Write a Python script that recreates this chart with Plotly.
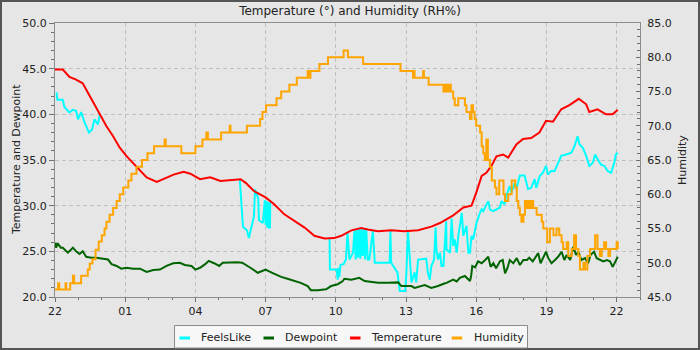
from datetime import datetime, timedelta
import plotly.graph_objects as go

# ---- readings (clock time "HH:MM", running from 22:00 one day to 22:00 the next) ----
temp_time = ["22:00", "22:20", "22:37", "22:54", "23:11", "23:20", "23:37", "23:54",
             "00:12", "00:29", "00:46", "01:04", "01:20", "01:38", "01:55", "02:21",
             "02:38", "03:04", "03:30", "03:47", "04:12", "04:38", "05:04", "05:30",
             "05:56", "06:09", "06:30", "07:00", "07:22", "07:48", "08:14", "08:40",
             "09:05", "09:31", "09:56", "10:14", "10:40", "11:05", "11:22", "11:48",
             "12:22", "12:56", "13:31", "14:05", "14:27", "15:00", "15:27", "15:48",
             "16:00", "16:14", "16:26", "16:39", "16:52", "17:09", "17:22", "17:43",
             "18:00", "18:21", "18:42", "18:59", "19:17", "19:38", "19:59", "20:23",
             "20:42", "20:50", "21:11", "21:33", "21:50", "22:03"]
temperature = [44.9, 44.9, 44.1, 43.8, 43.4, 42.7, 41.3, 40.1,
               38.7, 37.6, 36.35, 35.4, 34.7, 33.8, 33.1, 32.6,
               32.95, 33.4, 33.7, 33.5, 32.9, 33.1, 32.7, 32.8,
               32.9, 32.5, 31.6, 30.9, 30.15, 29.05, 28.3, 27.6,
               26.7, 26.4, 26.45, 26.7, 27.3, 27.55, 27.4, 27.2,
               27.3, 27.2, 27.3, 27.7, 28.1, 28.9, 29.8, 30.0,
               31.4, 33.25, 33.6, 34.35, 35.4, 35.6, 35.25, 36.7,
               37.3, 37.4, 38.0, 39.3, 39.2, 40.55, 41.0, 41.7,
               41.1, 40.25, 40.55, 40.0, 40.0, 40.5]

# FeelsLike is only listed where it differs from the temperature (None = same as temperature)
feels_time = ["22:04", "22:06", "22:20", "22:24", "22:37", "22:46", "22:54", "22:59",
              "23:07", "23:16", "23:27", "23:35", "23:41", "23:50", "23:55",
              "03:00",
              "05:54", "05:57", "06:02", "06:12", "06:17", "06:25", "06:30", "06:33",
              "06:41", "06:43", "06:53", "06:58", "07:00", "07:02", "07:04", "07:06",
              "07:08", "07:10", "07:11", "07:12",
              "08:30",
              "09:44", "09:45", "10:02", "10:05", "10:07", "10:09", "10:12", "10:20",
              "10:26", "10:30", "10:35", "10:44", "10:48", "10:51", "10:54", "10:57",
              "11:00", "11:03", "11:06", "11:09", "11:12", "11:15", "11:18", "11:22",
              "11:26", "11:35", "11:40", "12:18", "12:20", "12:22", "12:38", "12:44",
              "12:58", "13:01", "13:05", "13:10", "13:14", "13:22", "13:26", "13:31",
              "13:52", "13:56", "14:01", "14:05", "14:12", "14:16", "14:18", "14:22",
              "14:27", "14:31", "14:36", "14:43", "14:44", "14:53", "14:57", "15:01",
              "15:05", "15:10", "15:14", "15:23", "15:27", "15:35", "15:40", "15:44",
              "15:48", "15:52", "15:56", "16:01", "16:10", "16:14", "16:18", "16:26",
              "16:31", "16:35", "16:43", "16:52", "17:01", "17:05", "17:13", "17:17",
              "17:26", "17:30", "17:39", "17:43", "17:52", "18:04", "18:13", "18:21",
              "18:30", "18:34", "18:43", "18:51", "18:59", "19:04", "19:12", "19:21",
              "19:29", "19:38", "19:50", "20:04", "20:12", "20:20", "20:25", "20:33",
              "20:42", "20:50", "20:59", "21:05", "21:11", "21:20", "21:29", "21:37",
              "21:46", "21:50", "21:54", "21:58", "22:03"]
feels_like = [42.4, 41.6, 41.6, 40.8, 40.2, 40.5, 40.4, 39.45,
              40.25, 39.1, 38.0, 38.35, 39.45, 38.9, 40.0,
              None,
              32.8, 30.3, 27.7, 27.3, 26.45, 27.9, 28.8, 31.8,
              30.8, 28.4, 28.1, 30.6, 27.9, 30.5, 27.6, 30.4,
              27.5, 30.3, 27.5, 30.4,
              None,
              26.4, 23.0, 23.0, 21.9, 23.2, 22.2, 23.5, 23.6,
              24.1, 27.0, 24.1, 24.85, 27.3, 24.1, 27.4, 24.3,
              27.5, 24.2, 27.5, 24.5, 27.4, 24.1, 27.4, 24.1,
              24.1, 27.2, 23.75, 23.75, 27.3, 23.75, 22.7, 20.65,
              20.65, 22.7, 27.2, 24.1, 21.6, 22.7, 21.6, 24.1,
              24.2, 22.7, 21.9, 23.4, 24.1, 27.6, 25.2, 24.1,
              24.85, 23.4, 23.4, 28.3, 25.2, 24.85, 28.6, 25.6,
              26.3, 24.85, 26.7, 29.2, 26.7, 27.8, 24.85, 24.85,
              26.7, 26.3, 27.05, 28.15, 29.25, 29.6, 29.4, 30.15,
              30.5, 29.6, 29.4, 29.6, 29.8, 30.5, 30.15, 31.05,
              32.15, 31.4, 32.5, 31.8, 33.3, 33.3, 31.8, 31.95,
              32.9, 31.95, 33.25, 33.6, 34.35, 33.4, 33.8, 33.8,
              34.5, 35.45, 35.6, 35.8, 36.5, 37.6, 36.7, 36.35,
              35.45, 34.35, 34.7, 35.6, 35.1, 34.5, 34.35, 33.8,
              33.6, 34.15, 34.7, 35.6, 35.8]

dew_time = ["22:00", "22:03", "22:06", "22:15", "22:20", "22:33", "22:46", "22:54",
            "23:03", "23:11", "23:20", "23:33", "23:46", "00:03", "00:16", "00:25",
            "00:38", "00:50", "01:03", "01:20", "01:38", "01:55", "02:12", "02:29",
            "02:46", "03:03", "03:20", "03:33", "03:50", "04:00", "04:12", "04:25",
            "04:34", "04:48", "05:01", "05:10", "05:27", "05:48", "06:00", "06:12",
            "06:21", "06:40", "07:00", "07:17", "07:40", "07:56", "08:14", "08:30",
            "08:48", "08:56", "09:14", "09:35", "09:48", "10:05", "10:18", "10:22",
            "10:40", "11:00", "11:14", "11:48", "12:14", "12:40", "12:48", "13:14",
            "13:22", "13:40", "13:48", "14:05", "14:22", "14:40", "14:44", "15:01",
            "15:10", "15:18", "15:31", "15:44", "15:47", "15:50", "15:57", "16:05",
            "16:14", "16:23", "16:31", "16:37", "16:44", "16:51", "17:01", "17:08",
            "17:14", "17:20", "17:26", "17:35", "17:44", "17:52", "18:01", "18:10",
            "18:16", "18:25", "18:31", "18:39", "18:45", "18:52", "18:59", "19:05",
            "19:13", "19:22", "19:30", "19:39", "19:46", "19:52", "20:01", "20:09",
            "20:16", "20:22", "20:30", "20:39", "20:47", "20:53", "21:02", "21:09",
            "21:17", "21:26", "21:35", "21:43", "21:50", "21:58", "22:03"]
dewpoint = [25.95, 25.4, 25.9, 25.4, 25.4, 24.85, 25.4, 25.0,
            24.7, 25.0, 24.4, 24.3, 24.3, 24.2, 24.1, 23.6,
            23.4, 23.1, 23.2, 23.1, 23.1, 22.75, 22.95, 23.0,
            23.4, 23.7, 23.75, 23.5, 23.4, 23.0, 23.2, 23.6,
            23.95, 23.7, 23.4, 23.75, 23.8, 23.8, 23.75, 23.45,
            23.2, 22.65, 23.0, 22.65, 22.2, 22.0, 21.75, 21.55,
            21.2, 20.75, 20.75, 20.85, 21.2, 21.4, 21.75, 22.0,
            21.9, 22.1, 21.75, 21.55, 21.55, 21.6, 21.2, 21.2,
            21.0, 21.2, 21.3, 21.0, 21.2, 21.5, 21.55, 21.9,
            21.7, 22.1, 22.3, 21.75, 22.3, 23.4, 23.25, 23.9,
            23.7, 24.05, 24.4, 23.3, 23.7, 23.15, 23.9, 24.05,
            22.6, 23.15, 24.05, 23.7, 24.25, 23.5, 24.05, 24.05,
            24.3, 23.9, 24.25, 24.8, 23.7, 24.4, 24.95, 24.25,
            23.7, 24.05, 24.4, 24.95, 24.05, 24.6, 24.05, 25.5,
            24.6, 24.95, 24.05, 24.25, 23.7, 24.6, 24.95, 24.25,
            24.05, 23.9, 24.05, 23.9, 23.3, 24.05, 24.4]

hum_time = ["22:00", "22:08", "22:11", "22:27", "22:29", "22:39", "22:46", "22:49",
            "23:07", "23:24", "23:29", "23:36", "23:44", "23:52", "00:00", "00:07",
            "00:12", "00:20", "00:29", "00:38", "00:46", "00:55", "01:08", "01:16",
            "01:29", "01:43", "01:57", "02:14", "02:41", "02:44", "03:24", "04:00",
            "04:18", "04:28", "04:32", "05:06", "05:28", "05:30", "06:12", "06:46",
            "06:52", "07:01", "07:28", "07:40", "08:01", "08:20", "08:48", "08:52",
            "08:55", "09:18", "09:40", "10:20", "10:31", "11:10", "12:46", "13:18",
            "13:20", "13:22", "13:44", "13:46", "13:58", "14:36", "14:40", "14:45",
            "14:50", "14:55", "15:01", "15:05", "15:14", "15:31", "15:35", "15:44",
            "15:48", "15:52", "15:56", "16:00", "16:10", "16:14", "16:18", "16:22",
            "16:26", "16:30", "16:35", "16:40", "16:48", "16:52", "16:59", "17:10",
            "17:14", "17:22", "17:31", "17:40", "17:44", "17:48", "17:52", "17:56",
            "18:01", "18:05", "18:09", "18:14", "18:18", "18:22", "18:26", "18:35",
            "18:48", "18:52", "19:02", "19:09", "19:18", "19:26", "19:33", "19:39",
            "19:43", "19:52", "19:56", "20:05", "20:11", "20:16", "20:22", "20:26",
            "20:35", "20:39", "20:45", "20:52", "21:05", "21:11", "21:17", "21:22",
            "21:28", "21:33", "21:39", "21:43", "22:00", "22:03"]
humidity = [46.1, 47.0, 46.1, 47.0, 46.1, 47.0, 48.1, 47.0,
            48.1, 49.0, 49.9, 50.5, 51.9, 53.1, 54.0, 55.0,
            56.0, 57.0, 58.0, 59.0, 60.0, 61.0, 62.0, 63.0,
            64.0, 65.0, 66.0, 67.0, 68.0, 67.0, 66.0, 67.0,
            68.0, 69.0, 68.0, 69.0, 70.0, 69.0, 70.0, 71.0,
            72.0, 73.0, 74.0, 75.0, 76.0, 77.0, 78.0, 77.0,
            78.0, 79.0, 80.0, 81.0, 80.0, 79.0, 78.0, 77.0,
            78.0, 77.0, 78.0, 77.0, 76.0, 75.0, 76.0, 75.0,
            76.0, 75.0, 74.0, 73.0, 74.0, 73.0, 72.0, 71.0,
            73.0, 72.0, 71.0, 70.0, 69.0, 67.0, 66.0, 65.0,
            68.0, 65.0, 64.0, 62.0, 61.0, 60.0, 62.0, 60.0,
            59.0, 60.0, 62.0, 61.0, 59.0, 58.0, 57.0, 56.0,
            57.0, 59.0, 58.0, 59.0, 58.0, 59.0, 58.0, 57.0,
            56.0, 55.0, 53.0, 55.0, 54.0, 55.0, 54.0, 53.0,
            52.0, 53.0, 51.0, 52.0, 54.0, 52.0, 51.0, 49.0,
            50.0, 49.0, 51.0, 52.0, 54.0, 52.0, 51.0, 52.0,
            53.0, 52.0, 51.0, 52.0, 53.0, 52.0]

left_ticks = [20, 25, 30, 35, 40, 45, 50]
right_ticks = [45, 50, 55, 60, 65, 70, 75, 80, 85]

START = datetime(2023, 1, 1, 22, 0)


def stamps(clock):
    """Turn a list of HH:MM strings into datetimes, rolling over midnight."""
    out, day, prev = [], 0, None
    for c in clock:
        hh, mm = (int(p) for p in c.split(":"))
        m = hh * 60 + mm
        if prev is not None and m < prev:
            day += 1
        prev = m
        out.append(datetime(2023, 1, 1) + timedelta(days=day, minutes=m))
    return out


FONT = "DejaVu Sans"
series = [
    ("FeelsLike", feels_time, feels_like, "#00ffff", "y", "linear"),
    ("Dewpoint", dew_time, dewpoint, "#006400", "y", "linear"),
    ("Temperature", temp_time, temperature, "#ff0000", "y", "linear"),
    ("Humidity", hum_time, humidity, "#ffa500", "y2", "hv"),
]

fig = go.Figure()
for name, t, v, color, ax, shape in series:
    fig.add_trace(go.Scatter(x=stamps(t), y=v, name=name, mode="lines", yaxis=ax,
                             line=dict(color=color, width=2, shape=shape),
                             showlegend=False))

# plot area geometry in pixels
W, H = 700, 350
ML, MR, MT, MB = 55, 60, 23, 53
PW, PH = W - ML - MR, H - MT - MB


def px(x, y):
    return (x - ML) / PW, (H - MB - y) / PH


shapes = []
# outer frame
x0, y0 = px(1, 349)
x1, y1 = px(699, 1)
shapes.append(dict(type="rect", xref="paper", yref="paper", x0=x0, y0=y0, x1=x1, y1=y1,
                   line=dict(color="#555555", width=2), layer="above"))
# legend box
x0, y0 = px(174.5, 348)
x1, y1 = px(527.5, 325.5)
shapes.append(dict(type="rect", xref="paper", yref="paper", x0=x0, y0=y0, x1=x1, y1=y1,
                   fillcolor="#f7f7f7", line=dict(color="#8c8c8c", width=1), layer="above"))

annotations = []
legend_pos = [(179.5, 199.3), (263.5, 283.3), (350, 369), (451.7, 472.3)]
for (name, _, _, color, _, _), (sx, tx) in zip(series, legend_pos):
    a0, b0 = px(sx, 338)
    a1, _ = px(sx + 10.5, 338)
    shapes.append(dict(type="line", xref="paper", yref="paper", x0=a0, y0=b0, x1=a1, y1=b0,
                       line=dict(color=color, width=3), layer="above"))
    ax_, ay_ = px(tx, 337)
    annotations.append(dict(text=name, xref="paper", yref="paper", x=ax_, y=ay_,
                            xanchor="left", yanchor="middle", showarrow=False,
                            font=dict(family=FONT, size=11, color="#222222")))

# axis titles
tx, ty = px(16, 160)
annotations.append(dict(text="Temperature and Dewpoint", xref="paper", yref="paper", x=tx, y=ty,
                        textangle=-90, showarrow=False, xanchor="center", yanchor="middle",
                        font=dict(family=FONT, size=11, color="#222222")))
tx, ty = px(682, 160)
annotations.append(dict(text="Humidity", xref="paper", yref="paper", x=tx, y=ty,
                        textangle=-90, showarrow=False, xanchor="center", yanchor="middle",
                        font=dict(family=FONT, size=11, color="#222222")))

AXIS_LINE = "#8c8c8c"
GRID = "#c0c0c0"
TICK = "#707070"

fig.update_layout(
    width=W, height=H,
    margin=dict(l=ML, r=MR, t=MT, b=MB, pad=0),
    paper_bgcolor="#e6e6e6",
    plot_bgcolor="#e6e6e6",
    font=dict(family=FONT, size=11, color="#222222"),
    title=dict(text="Temperature (°) and Humidity (RH%)", x=0.5, xanchor="center",
               y=1 - 11 / H, yanchor="middle",
               font=dict(family=FONT, size=12, color="#222222")),
    xaxis=dict(
        type="date",
        range=[START, START + timedelta(hours=25)],
        tick0=START, dtick=3 * 3600 * 1000, tickformat="%H",
        ticks="outside", ticklen=4, tickcolor=TICK,
        minor=dict(dtick=3600 * 1000, tick0=START, ticks="outside", ticklen=2,
                   tickcolor=TICK, showgrid=False),
        showgrid=True, gridcolor=GRID, griddash="4px,3px", gridwidth=1,
        showline=True, linecolor=AXIS_LINE, linewidth=1, mirror=True,
        zeroline=False, tickfont=dict(family=FONT, size=11, color="#222222"),
    ),
    yaxis=dict(
        range=[20, 50], tickvals=left_ticks, tickformat=".1f",
        ticks="outside", ticklen=5, tickcolor=TICK,
        minor=dict(dtick=1, ticks="outside", ticklen=3, tickcolor=TICK, showgrid=False),
        showgrid=True, gridcolor=GRID, griddash="4px,3px", gridwidth=1,
        showline=True, linecolor=AXIS_LINE, linewidth=1, mirror=True,
        zeroline=False, tickfont=dict(family=FONT, size=11, color="#222222"),
    ),
    yaxis2=dict(
        range=[45, 85], tickvals=right_ticks, tickformat=".1f",
        overlaying="y", side="right",
        ticks="inside", ticklen=4, tickcolor=TICK, ticklabelstandoff=4,
        minor=dict(dtick=1, ticks="inside", ticklen=3, tickcolor=TICK, showgrid=False),
        showgrid=False, showline=True, linecolor=AXIS_LINE, linewidth=1,
        zeroline=False, tickfont=dict(family=FONT, size=11, color="#222222"),
    ),
    shapes=shapes,
    annotations=annotations,
    showlegend=False,
)

fig.write_html("out.html")
